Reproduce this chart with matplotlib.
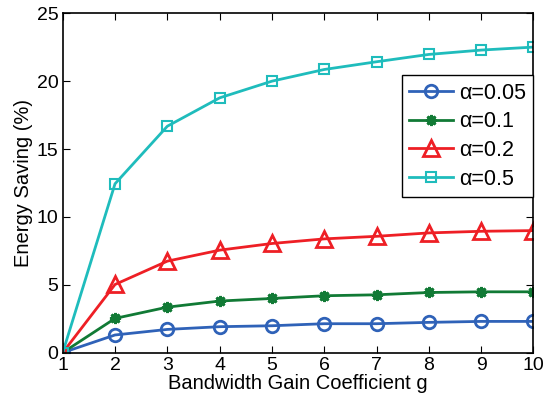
import numpy as np
import matplotlib
matplotlib.use("Agg")
import matplotlib.pyplot as plt

plt.rcParams['font.family'] = ['Liberation Sans', 'DejaVu Sans']

g = [1, 2, 3, 4, 5, 6, 7, 8, 9, 10]
a005 = [0, 1.30, 1.71, 1.91, 1.98, 2.13, 2.13, 2.23, 2.30, 2.30]
a01 = [0, 2.52, 3.35, 3.80, 3.99, 4.19, 4.26, 4.43, 4.48, 4.48]
a02 = [0, 5.02, 6.74, 7.55, 8.04, 8.38, 8.57, 8.82, 8.94, 8.99]
a05 = [0, 12.44, 16.68, 18.77, 20.0, 20.86, 21.43, 21.97, 22.29, 22.51]
labels = ['α=0.05', 'α=0.1', 'α=0.2', 'α=0.5']

fig = plt.figure(figsize=(5.43, 4.03), dpi=100)
ax = fig.add_axes([0.1155, 0.125, 0.867, 0.842])

ax.plot(g, a005, '-o', color='#2f62b8', lw=2, ms=9, mew=2, mfc='none', label=labels[0])
ax.plot(g, a01, '-', marker=(8, 2, 0), color='#117a35', lw=2, ms=8, mew=2, label=labels[1])
ax.plot(g, a02, '-^', color='#ee1f25', lw=2, ms=11, mew=2, mfc='none', label=labels[2])
ax.plot(g, a05, '-s', color='#1fbcbc', lw=2, ms=7, mew=1.5, mfc='none', label=labels[3])

ax.set_xlim(1, 10)
ax.set_ylim(0, 25)
ax.set_xticks(range(1, 11))
ax.set_yticks([0, 5, 10, 15, 20, 25])
ax.tick_params(direction='in', top=True, right=True, labelsize=14, length=5, pad=3)
for s in ax.spines.values():
    s.set_linewidth(1.2)
ax.set_xlabel('Bandwidth Gain Coefficient g', fontsize=14.5, labelpad=0)
ax.set_ylabel('Energy Saving (%)', fontsize=14.5, labelpad=3)

leg = ax.legend(loc='upper right', bbox_to_anchor=(1.0, 0.817), borderaxespad=0,
                fontsize=15.5, fancybox=False, edgecolor='black', framealpha=1,
                handlelength=2.0, handletextpad=0.3, labelspacing=0.35, borderpad=0.35)
leg.get_frame().set_linewidth(1.0)

fig.savefig('out.png', dpi=100)
